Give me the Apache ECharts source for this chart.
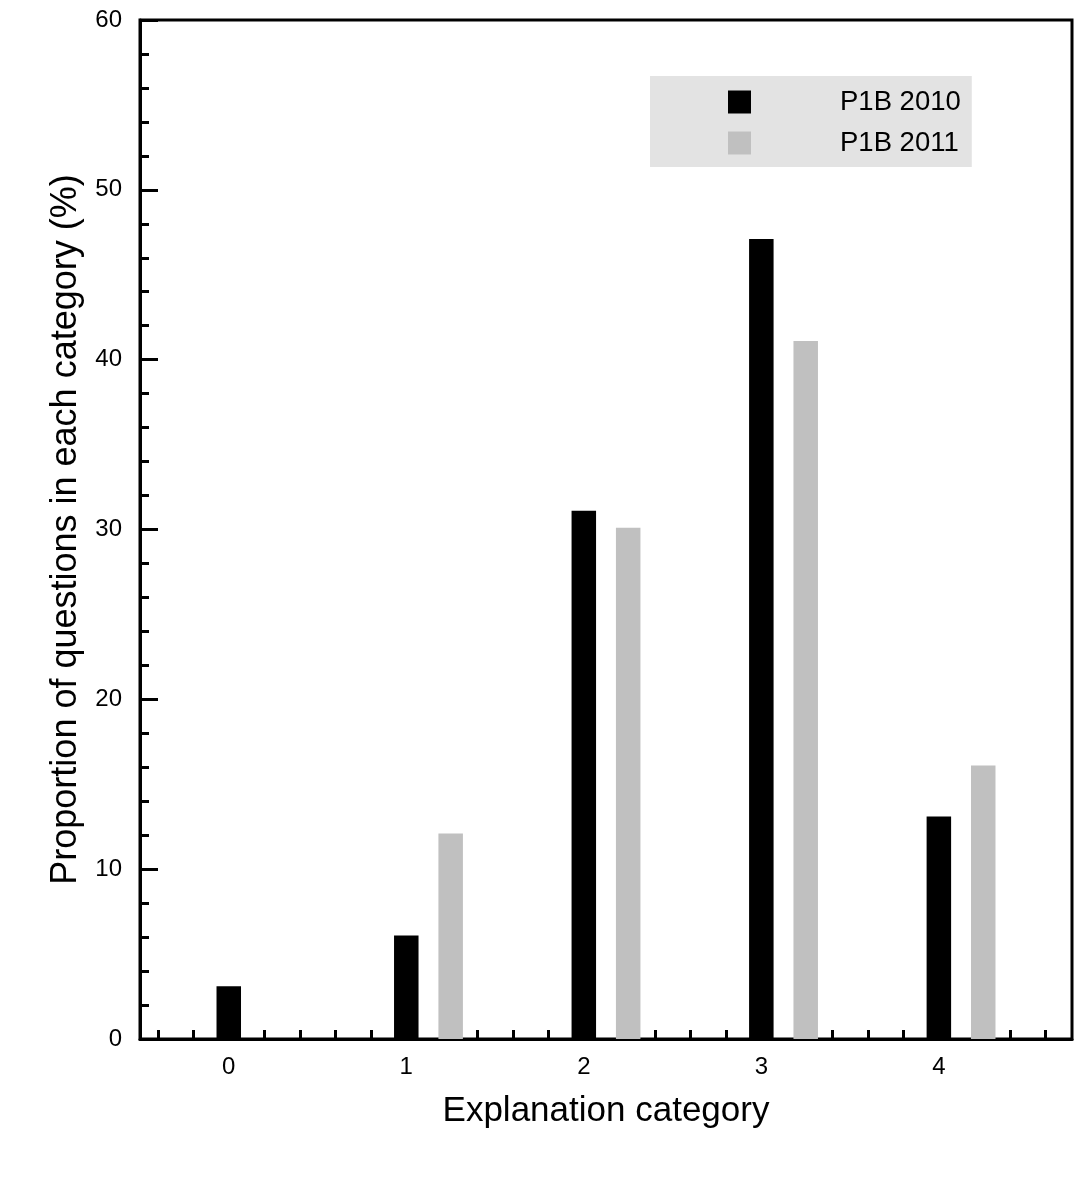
<!DOCTYPE html>
<html lang="en">
<head>
  <meta charset="UTF-8" />
  <title>Explanation category</title>
  <style>
    * { margin: 0; padding: 0; }
    html, body { width: 100%; background: #fff; }
    #chart { width: 1092px; height: 1180px; }
  </style>
</head>
<body>
  <div id="chart"></div>
  <script src="https://cdn.jsdelivr.net/npm/echarts@6/dist/echarts.min.js"></script>
  <script>
    // values
    var categories = [0, 1, 2, 3, 4];
    var p1b2010 = [3.1, 6.1, 31.1, 47.1, 13.1];
    var p1b2011 = [0, 12.1, 30.1, 41.1, 16.1];
    var yTicks = [0, 10, 20, 30, 40, 50, 60];

    var FONT = '"Liberation Sans", Arial, Helvetica, sans-serif';
    var BAR_W = 0.138;   // bar width in x units
    var GRAY_SHIFT = 0.25;

    // small ticks along the bottom every 0.2
    var xTickVals = [];
    for (var t = -4; t <= 46; t += 2) xTickVals.push(t / 10);

    function barItem(shift) {
      return function (params, api) {
        var x = api.value(0) + shift, y = api.value(1);
        var p0 = api.coord([x - BAR_W / 2, y]);
        var p1 = api.coord([x + BAR_W / 2, 0]);
        return {
          type: 'rect',
          shape: { x: p0[0], y: p0[1], width: p1[0] - p0[0], height: p1[1] - p0[1] },
          style: api.style()
        };
      };
    }

    var chart = echarts.init(document.getElementById('chart'));
    chart.setOption({
      animation: false,
      textStyle: { fontFamily: FONT, color: '#000' },
      grid: {
        left: 140, right: 20, top: 20, bottom: 141,
        show: true, borderColor: '#000', borderWidth: 3, backgroundColor: 'transparent'
      },
      legend: {
        left: 650, top: 76,
        orient: 'vertical',
        backgroundColor: '#e3e3e3',
        padding: [12, 11, 10, 78],
        itemWidth: 23, itemHeight: 23, itemGap: 13,
        icon: 'rect',
        textStyle: { fontFamily: FONT, fontSize: 27.5, color: '#000', padding: [0, 0, 0, 84] },
        data: ['P1B 2010', 'P1B 2011']
      },
      xAxis: {
        type: 'value',
        min: -0.5, max: 4.75,
        name: 'Explanation category',
        nameLocation: 'middle',
        nameGap: 55,
        nameTextStyle: { fontFamily: FONT, fontSize: 35, color: '#000' },
        axisLine: { show: true, onZero: false, lineStyle: { color: '#000', width: 3 } },
        axisTick: { show: true, inside: true, length: 9, customValues: xTickVals, lineStyle: { color: '#000', width: 3 } },
        axisLabel: { fontFamily: FONT, fontSize: 24, color: '#000', margin: 16, customValues: categories },
        splitLine: { show: false }
      },
      yAxis: {
        type: 'value',
        min: yTicks[0], max: yTicks[yTicks.length - 1], interval: 10,
        name: 'Proportion of questions in each category (%)',
        nameLocation: 'middle',
        nameGap: 52,
        nameTextStyle: { fontFamily: FONT, fontSize: 36, color: '#000' },
        axisLine: { show: true, onZero: false, lineStyle: { color: '#000', width: 3 } },
        axisTick: { show: true, inside: true, length: 18, lineStyle: { color: '#000', width: 3 } },
        minorTick: { show: true, splitNumber: 5, length: 9, lineStyle: { color: '#000', width: 3 } },
        axisLabel: { fontFamily: FONT, fontSize: 24, color: '#000', margin: 18 },
        splitLine: { show: false }
      },
      series: [
        {
          name: 'P1B 2010',
          type: 'custom',
          renderItem: barItem(0),
          itemStyle: { color: '#000' },
          encode: { x: 0, y: 1 },
          data: categories.map(function (c, i) { return [c, p1b2010[i]]; })
        },
        {
          name: 'P1B 2011',
          type: 'custom',
          renderItem: barItem(GRAY_SHIFT),
          itemStyle: { color: '#c0c0c0' },
          encode: { x: 0, y: 1 },
          data: categories.map(function (c, i) { return [c, p1b2011[i]]; })
        }
      ]
    });
  </script>
</body>
</html>
